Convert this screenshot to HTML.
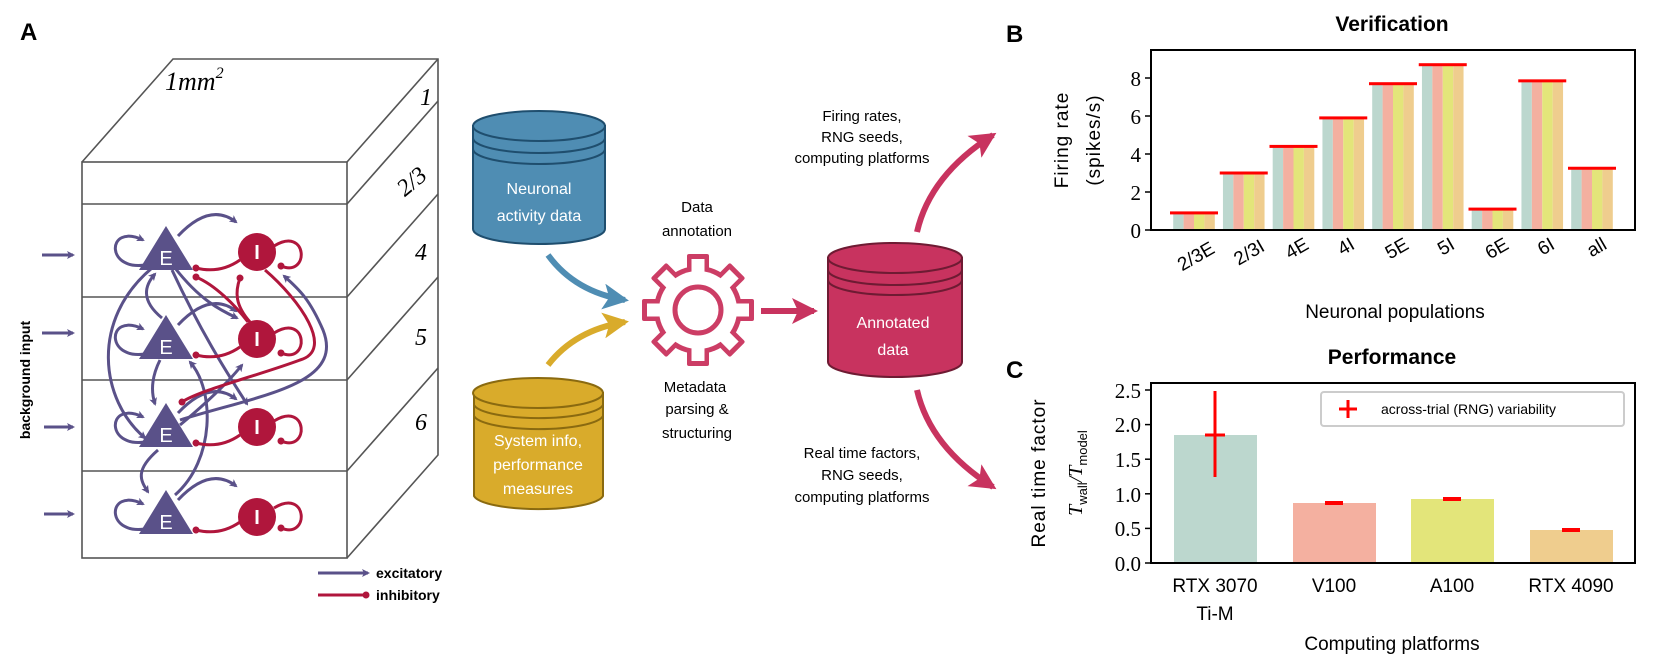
<!DOCTYPE html>
<html><head><meta charset="utf-8"><style>
html,body{margin:0;padding:0;background:#fff}
svg{display:block}
text{font-family:"Liberation Sans",Arial,sans-serif}
.ser{font-family:"Liberation Serif",serif}
</style></head><body>
<svg width="1661" height="664" viewBox="0 0 1661 664" xmlns="http://www.w3.org/2000/svg">
<defs>
<marker id="pa" markerWidth="8" markerHeight="8" refX="6" refY="4" orient="auto" markerUnits="userSpaceOnUse"><path d="M0,0 L8,4 L0,8 L2,4 z" fill="#5a5189"/></marker>
<marker id="cd" markerWidth="8" markerHeight="8" refX="4" refY="4" orient="auto" markerUnits="userSpaceOnUse"><circle cx="4" cy="4" r="3.5" fill="#b0163c"/></marker>
<marker id="pk" markerWidth="30" markerHeight="26" refX="22" refY="13" orient="auto" markerUnits="userSpaceOnUse"><path d="M0,0 L26,13 L0,26 L6,13 z" fill="#c8335f"/></marker>
<marker id="bl" markerWidth="30" markerHeight="26" refX="22" refY="13" orient="auto" markerUnits="userSpaceOnUse"><path d="M0,0 L26,13 L0,26 L6,13 z" fill="#4f8db3"/></marker>
<marker id="yl" markerWidth="30" markerHeight="26" refX="22" refY="13" orient="auto" markerUnits="userSpaceOnUse"><path d="M0,0 L26,13 L0,26 L6,13 z" fill="#d9ab2b"/></marker>
</defs>

<!-- Panel A -->
<text x="20" y="40" font-size="24" font-weight="bold">A</text>
<g fill="none" stroke="#555" stroke-width="1.6">
<rect x="82" y="162" width="265" height="396"/>
<line x1="82" y1="204" x2="347" y2="204"/>
<line x1="82" y1="297" x2="347" y2="297"/>
<line x1="82" y1="380" x2="347" y2="380"/>
<line x1="82" y1="471" x2="347" y2="471"/>
<polyline points="82,162 173,59 438,59 438,455 347,558"/>
<line x1="347" y1="162" x2="438" y2="59"/>
<line x1="347" y1="204" x2="438" y2="101"/>
<line x1="347" y1="297" x2="438" y2="194"/>
<line x1="347" y1="380" x2="438" y2="277"/>
<line x1="347" y1="471" x2="438" y2="368"/>
</g>
<text x="165" y="90" font-size="26" font-style="italic" class="ser">1mm<tspan font-size="16" dy="-12">2</tspan></text>
<text x="420" y="105" font-size="24" font-style="italic" class="ser">1</text>
<text x="395" y="190" font-size="24" font-style="italic" class="ser" transform="rotate(-40 410 180)">2/3</text>
<text x="415" y="260" font-size="24" font-style="italic" class="ser">4</text>
<text x="415" y="345" font-size="24" font-style="italic" class="ser">5</text>
<text x="415" y="430" font-size="24" font-style="italic" class="ser">6</text>
<text x="30" y="380" font-size="14" font-weight="bold" text-anchor="middle" transform="rotate(-90 30 380)">background input</text>

<g stroke="#5a5189" stroke-width="3" fill="none" marker-end="url(#pa)">
<line x1="42" y1="255" x2="73" y2="255"/>
<line x1="42" y1="333" x2="73" y2="333"/>
<line x1="44" y1="427" x2="73" y2="427"/>
<line x1="44" y1="514" x2="73" y2="514"/>
<line x1="318" y1="573" x2="368" y2="573"/>
</g>
<line x1="318" y1="595" x2="366" y2="595" stroke="#b0163c" stroke-width="3" marker-end="url(#cd)"/>
<text x="376" y="578" font-size="14" font-weight="bold">excitatory</text>
<text x="376" y="600" font-size="14" font-weight="bold">inhibitory</text>

<!-- connections -->
<g stroke="#5a5189" stroke-width="3" fill="none" marker-end="url(#pa)">
<path d="M150 264 C105 275 105 222 143 240"/>
<path d="M150 353 C105 364 105 311 143 329"/>
<path d="M150 441 C105 452 105 399 143 417"/>
<path d="M150 528 C105 539 105 486 143 504"/>
<path d="M178 236 Q210 202 236 222"/>
<path d="M178 325 Q210 291 236 311"/>
<path d="M178 413 Q210 379 236 399"/>
<path d="M178 500 Q210 466 236 486"/>
<path d="M152 268 C90 320 100 400 145 438"/>
<path d="M162 318 C140 300 145 285 155 274"/>
<path d="M175 268 C200 300 220 310 237 318"/>
<path d="M172 270 C200 330 225 370 247 404"/>
<path d="M160 360 C150 380 152 395 155 404"/>
<path d="M180 420 C260 395 345 385 323 330 C310 300 300 290 284 276"/>
<path d="M180 425 C210 400 230 380 242 365"/>
<path d="M175 495 C215 460 215 390 190 362"/>
<path d="M158 450 C135 470 140 480 148 492"/>
</g>
<g stroke="#b0163c" stroke-width="3" fill="none" marker-end="url(#cd)">
<path d="M240 260 Q220 274 196 268"/>
<path d="M240 347 Q220 361 196 355"/>
<path d="M240 435 Q220 449 196 443"/>
<path d="M240 522 Q220 536 196 530"/>
<path d="M274 246 C308 225 310 278 281 266"/>
<path d="M274 333 C308 312 310 365 281 353"/>
<path d="M274 421 C308 400 310 453 281 441"/>
<path d="M274 508 C308 487 310 540 281 528"/>
<path d="M265 270 C300 300 335 350 300 360 C260 375 200 390 182 402"/>
<path d="M248 322 C235 305 215 285 196 277"/>
<path d="M250 322 C235 305 235 292 240 278"/>
</g>
<g fill="#5a5189">
<polygon points="166,226 139,270 193,270"/>
<polygon points="166,315 139,359 193,359"/>
<polygon points="166,403 139,447 193,447"/>
<polygon points="166,490 139,534 193,534"/>
</g>
<g fill="#b0163c">
<circle cx="257" cy="252" r="19"/><circle cx="257" cy="339" r="19"/><circle cx="257" cy="427" r="19"/><circle cx="257" cy="517" r="19"/>
</g>
<g fill="#fff" font-size="20" text-anchor="middle">
<text x="166" y="265">E</text><text x="166" y="354">E</text><text x="166" y="442">E</text><text x="166" y="529">E</text>
<text x="257" y="259" font-weight="bold">I</text><text x="257" y="346" font-weight="bold">I</text><text x="257" y="434" font-weight="bold">I</text><text x="257" y="524" font-weight="bold">I</text>
</g>

<!-- cylinders -->
<g stroke="#1f4e6e" stroke-width="2">
<path d="M473 126 L473 229 A66 15 0 0 0 605 229 L605 126 Z" fill="#4f8db3"/>
<ellipse cx="539" cy="126" rx="66" ry="15" fill="#4f8db3"/>
<path d="M473 138 A66 15 0 0 0 605 138 M473 149 A66 15 0 0 0 605 149" fill="none"/>
</g>
<text x="539" y="194" font-size="16" fill="#fff" text-anchor="middle">Neuronal</text>
<text x="539" y="221" font-size="16" fill="#fff" text-anchor="middle">activity data</text>

<g stroke="#8a6a10" stroke-width="2">
<path d="M474 393 L474 496 A65 15 0 0 0 603 496 L603 393 Z" fill="#d9ab2b"/>
<ellipse cx="538" cy="393" rx="65" ry="15" fill="#d9ab2b"/>
<path d="M474 405 A65 15 0 0 0 603 405 M474 416 A65 15 0 0 0 603 416" fill="none"/>
</g>
<text x="538" y="446" font-size="16" fill="#fff" text-anchor="middle">System info,</text>
<text x="538" y="470" font-size="16" fill="#fff" text-anchor="middle">performance</text>
<text x="538" y="494" font-size="16" fill="#fff" text-anchor="middle">measures</text>

<g stroke="#6e1b33" stroke-width="2">
<path d="M828 258 L828 362 A67 15 0 0 0 962 362 L962 258 Z" fill="#c8335f"/>
<ellipse cx="895" cy="258" rx="67" ry="15" fill="#c8335f"/>
<path d="M828 270 A67 15 0 0 0 962 270 M828 280 A67 15 0 0 0 962 280" fill="none"/>
</g>
<text x="893" y="328" font-size="16" fill="#fff" text-anchor="middle">Annotated</text>
<text x="893" y="355" font-size="16" fill="#fff" text-anchor="middle">data</text>

<!-- gear -->
<g transform="translate(698,310)">
<g fill="#cc3d65">
<circle r="44"/>
<g id="teeth"><rect x="-11" y="-56" width="22" height="20" rx="2"/></g>
<use href="#teeth" transform="rotate(45)"/><use href="#teeth" transform="rotate(90)"/><use href="#teeth" transform="rotate(135)"/><use href="#teeth" transform="rotate(180)"/><use href="#teeth" transform="rotate(225)"/><use href="#teeth" transform="rotate(270)"/><use href="#teeth" transform="rotate(315)"/>
</g>
<g fill="#fff">
<circle r="39"/>
<g id="t2"><rect x="-6.5" y="-51" width="13" height="20"/></g>
<use href="#t2" transform="rotate(45)"/><use href="#t2" transform="rotate(90)"/><use href="#t2" transform="rotate(135)"/><use href="#t2" transform="rotate(180)"/><use href="#t2" transform="rotate(225)"/><use href="#t2" transform="rotate(270)"/><use href="#t2" transform="rotate(315)"/>
</g>
<circle r="23" fill="none" stroke="#cc3d65" stroke-width="5"/>
</g>

<path d="M548 255 Q575 292 625 300" stroke="#4f8db3" stroke-width="6" fill="none" marker-end="url(#bl)"/>
<path d="M548 365 Q575 330 625 322" stroke="#d9ab2b" stroke-width="6" fill="none" marker-end="url(#yl)"/>
<line x1="761" y1="311" x2="814" y2="311" stroke="#c8335f" stroke-width="6" marker-end="url(#pk)"/>
<path d="M917 232 Q930 175 993 135" stroke="#c8335f" stroke-width="6" fill="none" marker-end="url(#pk)"/>
<path d="M917 390 Q930 447 993 487" stroke="#c8335f" stroke-width="6" fill="none" marker-end="url(#pk)"/>

<g font-size="15" text-anchor="middle">
<text x="697" y="212">Data</text><text x="697" y="236">annotation</text>
<text x="695" y="392">Metadata</text><text x="697" y="414">parsing &amp;</text><text x="697" y="438">structuring</text>
<text x="862" y="121">Firing rates,</text><text x="862" y="142">RNG seeds,</text><text x="862" y="163">computing platforms</text>
<text x="862" y="458">Real time factors,</text><text x="862" y="480">RNG seeds,</text><text x="862" y="502">computing platforms</text>
</g>

<!-- Panel B -->
<text x="1006" y="42" font-size="24" font-weight="bold">B</text>
<text x="1392" y="31" font-size="21" font-weight="bold" text-anchor="middle">Verification</text>
<g id="barsB">
<!-- groups: centers 1194..1592 step 49.75 -->
</g>
<g>
<!-- 2/3E 0.9 -->
<g transform="translate(1194,0)"><rect x="-20.8" y="212.9" width="10.4" height="17.1" fill="#bcd7ce"/><rect x="-10.4" y="212.9" width="10.4" height="17.1" fill="#f4b0a0"/><rect x="0" y="212.9" width="10.4" height="17.1" fill="#e3e57a"/><rect x="10.4" y="212.9" width="10.4" height="17.1" fill="#efcd8e"/><rect x="-24" y="211.4" width="48" height="3" fill="#f00"/></g>
<g transform="translate(1243.75,0)"><rect x="-20.8" y="173" width="10.4" height="57" fill="#bcd7ce"/><rect x="-10.4" y="173" width="10.4" height="57" fill="#f4b0a0"/><rect x="0" y="173" width="10.4" height="57" fill="#e3e57a"/><rect x="10.4" y="173" width="10.4" height="57" fill="#efcd8e"/><rect x="-24" y="171.5" width="48" height="3" fill="#f00"/></g>
<g transform="translate(1293.5,0)"><rect x="-20.8" y="146.4" width="10.4" height="83.6" fill="#bcd7ce"/><rect x="-10.4" y="146.4" width="10.4" height="83.6" fill="#f4b0a0"/><rect x="0" y="146.4" width="10.4" height="83.6" fill="#e3e57a"/><rect x="10.4" y="146.4" width="10.4" height="83.6" fill="#efcd8e"/><rect x="-24" y="144.9" width="48" height="3" fill="#f00"/></g>
<g transform="translate(1343.25,0)"><rect x="-20.8" y="117.9" width="10.4" height="112.1" fill="#bcd7ce"/><rect x="-10.4" y="117.9" width="10.4" height="112.1" fill="#f4b0a0"/><rect x="0" y="117.9" width="10.4" height="112.1" fill="#e3e57a"/><rect x="10.4" y="117.9" width="10.4" height="112.1" fill="#efcd8e"/><rect x="-24" y="116.4" width="48" height="3" fill="#f00"/></g>
<g transform="translate(1393,0)"><rect x="-20.8" y="83.7" width="10.4" height="146.3" fill="#bcd7ce"/><rect x="-10.4" y="83.7" width="10.4" height="146.3" fill="#f4b0a0"/><rect x="0" y="83.7" width="10.4" height="146.3" fill="#e3e57a"/><rect x="10.4" y="83.7" width="10.4" height="146.3" fill="#efcd8e"/><rect x="-24" y="82.2" width="48" height="3" fill="#f00"/></g>
<g transform="translate(1442.75,0)"><rect x="-20.8" y="64.7" width="10.4" height="165.3" fill="#bcd7ce"/><rect x="-10.4" y="64.7" width="10.4" height="165.3" fill="#f4b0a0"/><rect x="0" y="64.7" width="10.4" height="165.3" fill="#e3e57a"/><rect x="10.4" y="64.7" width="10.4" height="165.3" fill="#efcd8e"/><rect x="-24" y="63.2" width="48" height="3" fill="#f00"/></g>
<g transform="translate(1492.5,0)"><rect x="-20.8" y="209.1" width="10.4" height="20.9" fill="#bcd7ce"/><rect x="-10.4" y="209.1" width="10.4" height="20.9" fill="#f4b0a0"/><rect x="0" y="209.1" width="10.4" height="20.9" fill="#e3e57a"/><rect x="10.4" y="209.1" width="10.4" height="20.9" fill="#efcd8e"/><rect x="-24" y="207.6" width="48" height="3" fill="#f00"/></g>
<g transform="translate(1542.25,0)"><rect x="-20.8" y="80.85" width="10.4" height="149.15" fill="#bcd7ce"/><rect x="-10.4" y="80.85" width="10.4" height="149.15" fill="#f4b0a0"/><rect x="0" y="80.85" width="10.4" height="149.15" fill="#e3e57a"/><rect x="10.4" y="80.85" width="10.4" height="149.15" fill="#efcd8e"/><rect x="-24" y="79.35" width="48" height="3" fill="#f00"/></g>
<g transform="translate(1592,0)"><rect x="-20.8" y="168.25" width="10.4" height="61.75" fill="#bcd7ce"/><rect x="-10.4" y="168.25" width="10.4" height="61.75" fill="#f4b0a0"/><rect x="0" y="168.25" width="10.4" height="61.75" fill="#e3e57a"/><rect x="10.4" y="168.25" width="10.4" height="61.75" fill="#efcd8e"/><rect x="-24" y="166.75" width="48" height="3" fill="#f00"/></g>
</g>
<rect x="1151" y="50" width="484" height="180" fill="none" stroke="#000" stroke-width="2"/>
<g stroke="#000" stroke-width="1.5">
<line x1="1145" y1="230" x2="1151" y2="230"/><line x1="1145" y1="192" x2="1151" y2="192"/><line x1="1145" y1="154" x2="1151" y2="154"/><line x1="1145" y1="116" x2="1151" y2="116"/><line x1="1145" y1="78" x2="1151" y2="78"/>
</g>
<g class="ser" font-size="21" text-anchor="end">
<text x="1141" y="238" class="ser">0</text><text x="1141" y="200" class="ser">2</text><text x="1141" y="162" class="ser">4</text><text x="1141" y="124" class="ser">6</text><text x="1141" y="86" class="ser">8</text>
</g>
<text x="1068" y="140" font-size="19" text-anchor="middle" transform="rotate(-90 1068 140)" letter-spacing="1">Firing rate</text>
<text x="1100" y="140" font-size="19" text-anchor="middle" transform="rotate(-90 1100 140)" letter-spacing="1">(spikes/s)</text>
<g font-size="19" text-anchor="end">
<text transform="translate(1216,252) rotate(-30)">2/3E</text>
<text transform="translate(1266,250) rotate(-30)">2/3I</text>
<text transform="translate(1310,248) rotate(-30)">4E</text>
<text transform="translate(1356,248) rotate(-30)">4I</text>
<text transform="translate(1410,248) rotate(-30)">5E</text>
<text transform="translate(1456,248) rotate(-30)">5I</text>
<text transform="translate(1510,248) rotate(-30)">6E</text>
<text transform="translate(1556,248) rotate(-30)">6I</text>
<text transform="translate(1608,248) rotate(-30)">all</text>
</g>
<text x="1395" y="318" font-size="19" text-anchor="middle">Neuronal populations</text>

<!-- Panel C -->
<text x="1006" y="378" font-size="24" font-weight="bold">C</text>
<text x="1392" y="364" font-size="21" font-weight="bold" text-anchor="middle">Performance</text>
<rect x="1174" y="435" width="83" height="128" fill="#bcd7ce"/>
<rect x="1293" y="503" width="83" height="60" fill="#f4b0a0"/>
<rect x="1411" y="499" width="83" height="64" fill="#e3e57a"/>
<rect x="1530" y="530" width="83" height="33" fill="#efcd8e"/>
<g fill="#f00">
<rect x="1213.5" y="391" width="3" height="86"/>
<rect x="1205" y="433.5" width="20" height="3"/>
<rect x="1325" y="501" width="18" height="4"/>
<rect x="1443" y="497" width="18" height="4"/>
<rect x="1562" y="528" width="18" height="4"/>
</g>
<rect x="1321" y="392" width="303" height="34" rx="3" fill="#fff" stroke="#ccc" stroke-width="2"/>
<rect x="1346.5" y="400" width="3" height="18" fill="#f00"/>
<rect x="1339" y="407.5" width="18" height="3" fill="#f00"/>
<text x="1381" y="414" font-size="14">across-trial (RNG) variability</text>
<rect x="1151" y="383" width="484" height="180" fill="none" stroke="#000" stroke-width="2"/>
<g stroke="#000" stroke-width="1.5">
<line x1="1145" y1="563" x2="1151" y2="563"/><line x1="1145" y1="528.4" x2="1151" y2="528.4"/><line x1="1145" y1="493.8" x2="1151" y2="493.8"/><line x1="1145" y1="459.2" x2="1151" y2="459.2"/><line x1="1145" y1="424.6" x2="1151" y2="424.6"/><line x1="1145" y1="390" x2="1151" y2="390"/>
</g>
<g font-size="21" text-anchor="end">
<text x="1141" y="571" class="ser">0.0</text><text x="1141" y="536" class="ser">0.5</text><text x="1141" y="502" class="ser">1.0</text><text x="1141" y="467" class="ser">1.5</text><text x="1141" y="432" class="ser">2.0</text><text x="1141" y="398" class="ser">2.5</text>
</g>
<text x="1045" y="473" font-size="19" text-anchor="middle" transform="rotate(-90 1045 473)" letter-spacing="1">Real time factor</text>
<text x="1082" y="473" font-size="20" text-anchor="middle" transform="rotate(-90 1082 473)" class="ser" font-style="italic">T<tspan font-size="13" font-style="normal" dy="5" font-family="Liberation Sans">wall</tspan><tspan dy="-5">/T</tspan><tspan font-size="13" font-style="normal" dy="5" font-family="Liberation Sans">model</tspan></text>
<g font-size="19" text-anchor="middle">
<text x="1215" y="592">RTX 3070</text><text x="1215" y="620">Ti-M</text>
<text x="1334" y="592">V100</text>
<text x="1452" y="592">A100</text>
<text x="1571" y="592">RTX 4090</text>
</g>
<text x="1392" y="650" font-size="19" text-anchor="middle">Computing platforms</text>
</svg>
</body></html>
